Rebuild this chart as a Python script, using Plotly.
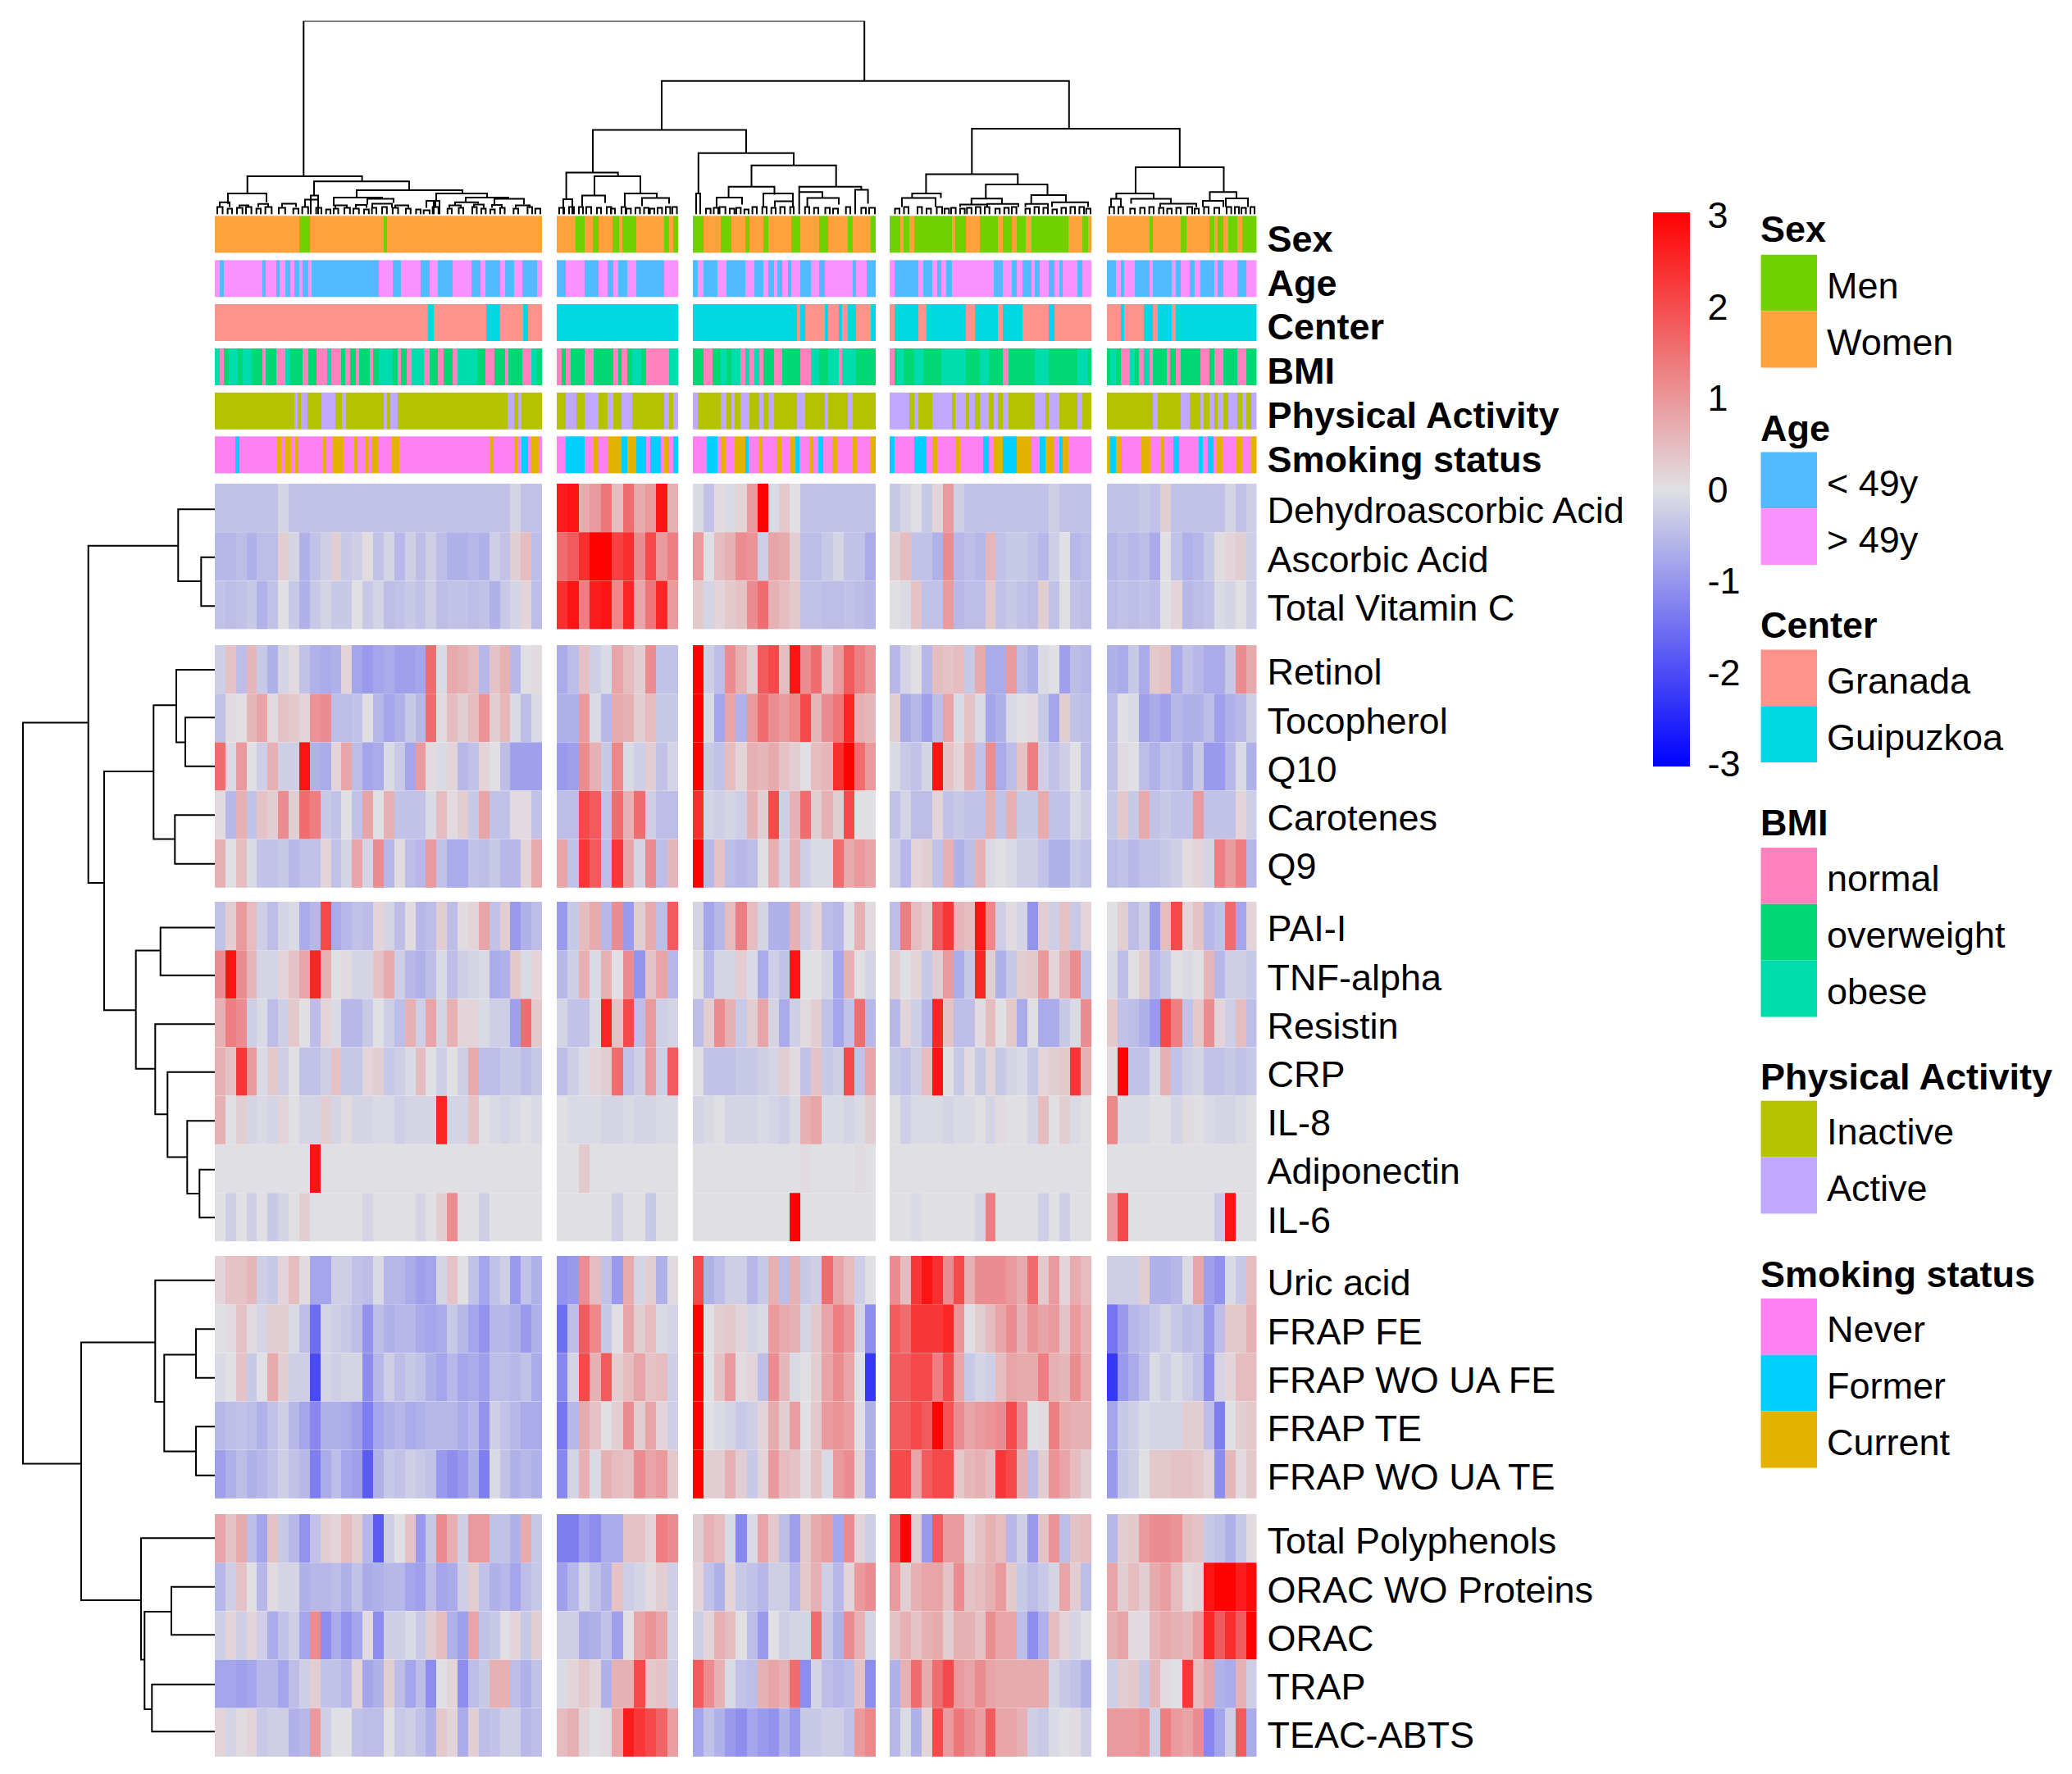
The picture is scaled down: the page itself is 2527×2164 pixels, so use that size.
import numpy as np
import plotly.graph_objects as go

W, H = 2527, 2164
FONT = "Liberation Sans"
FS = 45

# ---------- heat map values (tenths of a z-score as read), one inner list per column cluster ----------
dehydro = [[-5,-5,-5,-5,-5,-5,-2,-5,-5,-5,-5,-5,-5,-5,-5,-5,-5,-5,-5,-5,-5,-5,-5,-5,-5,-5,-5,-5,-2,-5,-5],
 [27,28,9,12,17,6,18,9,12,28,8],
 [-1,-5,1,-1,2,12,30,-1,4,0,-5,-5,-5,-5,-5,-5,-5],
 [-4,-2,0,-4,2,12,-3,-5,-5,-5,-5,-5,-5,-5,-5,-3,-5,-5,-5],
 [-5,-5,-5,-4,-5,3,-5,-5,-5,-5,-5,-2,-5,-3]]
ascorbic = [[-7,-7,-6,-8,-6,-6,3,-2,-8,-5,-3,3,-4,-3,1,-5,-2,-7,-3,-6,-3,-6,-8,-8,-7,-8,-3,-5,3,6,-6],
 [18,20,25,30,30,23,25,14,22,12,16],
 [12,0,6,8,14,13,-3,10,9,3,-6,-6,-4,-2,-5,-5,-9],
 [3,6,-5,-5,-8,14,-7,-6,-7,7,-5,-4,-4,-5,-7,-3,0,-7,-6],
 [-7,-6,-7,-6,-9,0,-5,-8,-7,-4,1,2,3,-3]]
vitc = [[-5,-6,-5,-4,-8,-5,0,-4,-8,-4,-2,-4,-4,0,-4,-2,-6,-5,-4,-5,-3,-6,-5,-5,-6,-5,-8,-4,-2,2,-6],
 [25,28,16,27,28,15,26,10,17,26,12],
 [4,-2,2,4,5,14,18,8,6,4,-5,-5,-6,-6,-5,-6,-7],
 [0,-1,5,-5,-5,12,-7,-6,-6,4,-5,-4,-5,-6,3,-5,0,-5,-6],
 [-6,-5,-6,-5,-6,0,2,-7,-6,-5,-1,-2,0,-3]]
retinol = [[-3,5,-6,7,-4,-8,-2,1,-5,-8,-9,-8,2,-10,-12,-10,-9,-11,-11,-10,18,-1,9,8,6,-7,5,8,-7,0,1],
 [-9,-6,5,-3,-1,10,6,3,14,-5,-5],
 [30,-3,-6,14,8,3,20,22,6,28,14,18,5,12,20,16,13],
 [-7,-2,0,-7,6,5,6,-4,9,-9,-9,12,-6,-8,-1,0,-11,-6,-7],
 [-8,-9,-4,-9,4,5,-9,-5,-7,-9,-9,-4,14,9]]
tocopherol = [[-5,1,0,7,10,1,5,4,2,13,14,-6,-6,-5,0,-7,-10,-8,-4,-7,18,1,6,3,6,13,3,7,-1,-6,-1],
 [-8,-8,12,-1,-7,9,8,3,6,-4,-4],
 [30,-1,-10,10,-8,12,18,14,12,15,22,7,14,17,26,8,7],
 [3,-9,-7,-11,-6,10,-1,5,-1,-10,-8,-1,0,1,-4,-10,3,-5,-6],
 [-6,0,-1,-11,-9,-11,-7,-8,-8,-6,-11,-8,-7,-3]]
q10 = [[18,-1,12,0,-3,8,-3,-3,28,-8,-9,2,10,-6,-10,-9,-1,-4,-10,12,1,-1,2,-7,-5,2,0,-6,-11,-11,-11],
 [-12,-11,14,8,-4,15,-1,-3,3,-5,-2],
 [30,-4,-5,6,2,8,7,9,5,3,0,6,7,25,30,18,12],
 [-1,-4,-5,-2,28,5,2,8,-5,14,-9,-6,5,16,-3,-5,-3,0,-6],
 [-5,1,0,-6,-8,-5,-6,-9,-4,-12,-12,-7,-1,-8]]
carotenes = [[1,-7,8,-5,5,3,14,3,18,16,-4,-5,0,-5,10,0,8,-5,-5,-5,-1,6,1,3,-4,10,-5,-5,1,1,-5],
 [-6,-6,22,20,-5,18,8,18,-3,-6,-6],
 [25,-2,-3,-2,-3,8,3,22,-3,8,18,3,8,3,22,0,0],
 [-5,-2,-6,-6,2,-5,-4,-5,-5,8,-5,8,-4,-4,9,-5,-5,-1,-3],
 [-4,4,-4,9,-5,-4,-5,-5,12,-5,-5,-5,2,-3]]
q9 = [[8,0,6,-1,-5,-5,-4,-7,-5,-5,2,-5,-2,10,-2,14,-7,1,-6,-7,12,-5,-9,-9,-5,-6,-4,-7,-7,2,9],
 [10,-5,24,20,-6,24,10,-2,14,-6,7],
 [30,-7,5,-6,-7,-6,0,8,-2,8,-3,-1,-1,18,9,12,10],
 [-3,-7,2,3,-5,8,-8,-6,8,-1,0,-1,-3,-3,-5,-8,-8,-4,-5],
 [-6,-5,-7,-5,-5,-4,-3,1,2,-2,16,12,16,-7]]
pai = [[-5,3,12,6,-3,-6,-2,-1,-9,-7,22,-9,-7,-5,-6,2,-2,-6,1,-7,-6,3,-6,1,2,10,-5,3,-12,-8,-6],
 [-12,-4,6,9,-7,14,-12,3,9,-6,20],
 [-2,-10,-7,6,16,6,-2,-8,-8,8,-3,2,-6,-7,0,8,1],
 [-6,16,6,3,20,24,7,6,28,15,-3,1,-2,-13,3,-3,5,-4,2],
 [0,3,-6,-3,-12,6,22,2,5,-7,-5,18,-10,2]]
tnf = [[14,28,14,7,-2,-2,2,5,10,26,8,0,1,-2,-2,5,9,-3,-7,-8,-6,-1,-6,-3,-2,-1,-9,-8,4,-1,2],
 [-7,-3,8,-1,8,0,14,-13,5,10,-7],
 [0,-7,-2,-2,3,-1,-9,-3,-5,28,0,0,-2,-10,8,0,-2],
 [3,0,2,-4,3,12,-9,-4,26,3,-8,-4,3,4,12,2,8,14,-5],
 [-1,-6,0,3,-7,-4,0,-1,0,7,-7,-3,-3,-4]]
resistin = [[8,16,14,-3,-1,-6,-3,4,0,-6,2,-1,-7,-7,-4,0,-3,-6,8,-3,10,-2,8,2,2,-1,-3,-3,-11,18,4],
 [-2,-5,-5,-1,26,5,22,-6,12,-3,-2],
 [-6,3,14,8,-4,3,10,-2,-9,-3,1,3,-5,-10,-5,18,-7],
 [-7,2,-3,-7,26,5,-6,-6,1,6,0,4,-9,0,-9,-9,-4,-1,14],
 [4,-5,-6,-8,-12,22,16,-5,4,14,2,-3,6,-6]]
crp = [[8,5,24,12,-1,4,-3,0,-5,-5,-3,5,-4,-4,2,3,-4,-3,-1,6,0,-3,0,-3,9,-6,-6,-4,-4,-6,-4],
 [-6,-3,-1,2,3,18,-5,-3,12,-3,20],
 [0,-5,-5,-5,-4,-4,-3,-2,3,1,-5,5,-4,-3,22,-5,10],
 [-4,-5,-3,6,28,0,-4,1,-4,2,-4,-2,-1,-4,2,3,4,24,8],
 [1,30,-5,-5,-1,8,-5,-3,-2,-5,-5,-4,-5,-4]]
il8 = [[8,0,3,-2,-1,-2,2,0,-2,-2,3,-2,1,-2,-2,-1,-1,-3,-2,-2,-2,26,-2,-2,5,0,-1,-2,-1,0,-1],
 [0,-1,-1,-1,-2,-2,-1,-2,-2,-1,-1],
 [-2,-1,0,-2,-2,-2,-1,-2,-3,-1,8,10,-1,-1,-2,-1,3],
 [0,-3,-1,-1,-1,-2,-1,-1,0,-2,1,0,0,-2,6,0,3,-1,0],
 [15,-1,-1,-1,0,0,-2,1,0,-1,-2,-2,-1,0]]
adiponectin = [[0,0,0,0,0,0,0,0,0,28,0,0,0,0,0,0,0,0,0,0,0,0,0,0,0,0,0,0,0,0,0],
 [0,0,4,0,0,0,0,0,0,0,0],
 [0,0,0,0,0,0,0,0,0,0,1,0,0,0,0,1,0],
 [0,0,0,0,0,0,0,0,0,0,0,0,0,0,0,0,0,0,0],
 [0,0,0,0,0,0,0,0,0,0,0,0,0,0]]
il6 = [[0,-3,0,-3,0,-4,-2,0,3,0,0,0,0,0,-2,0,0,0,0,-2,0,3,14,0,0,-3,0,0,0,0,0],
 [0,0,0,0,0,-3,0,0,-4,0,0],
 [0,0,0,0,0,0,0,0,0,30,0,0,0,0,0,0,0],
 [0,0,-1,0,0,0,0,0,-2,16,0,0,0,0,-3,0,-3,0,0],
 [12,22,0,0,0,0,0,0,0,0,-4,28,0,0]]
uric = [[2,5,5,7,-3,-4,2,6,1,-10,-10,-3,-3,-5,-6,-1,-7,-7,-9,-11,-10,-2,5,0,-5,-10,-5,-3,-12,-5,-8],
 [-13,-12,14,6,-5,-12,9,-2,3,-8,1],
 [22,-8,-6,-3,-3,-7,-4,8,-6,8,-4,-3,18,10,6,-3,0],
 [14,6,24,28,25,14,22,8,14,14,14,12,9,18,4,12,2,9,6],
 [-3,-3,-3,3,-8,-8,-7,-1,10,-11,-13,-1,-4,6]]
frap_fe = [[0,1,5,1,-2,3,3,-1,-6,-18,-2,-3,-4,-6,-13,-6,-8,-7,-7,-9,-10,-9,-4,-7,-10,-13,-7,-7,-8,-12,-8],
 [-18,-6,20,15,-4,0,10,3,6,-1,-2],
 [30,0,3,4,2,-2,-1,12,9,8,-2,4,10,16,13,-2,-14],
 [20,18,24,24,24,26,13,0,3,6,10,14,8,13,10,12,5,12,8],
 [-17,-12,-7,-6,-4,-2,-4,-6,-5,-12,-6,4,4,8]]
frap_wo_fe = [[-1,0,5,-4,0,9,3,-3,-3,-22,-2,-3,-2,-2,-14,-7,-3,-6,-4,-5,-8,-10,-7,-10,-9,-11,-6,-6,-7,-5,-9],
 [-15,-2,22,8,20,3,6,10,5,6,-3],
 [30,0,5,12,1,2,-6,14,7,-1,0,3,10,14,10,0,-24],
 [20,20,22,22,16,22,10,-4,-2,-3,6,10,9,9,16,8,7,14,9],
 [-24,-12,-9,-6,-1,-3,-1,-3,-5,-14,-2,2,6,6]]
frap_te = [[-7,-6,-5,-6,-8,-5,-3,-7,-10,-15,-8,-8,-9,-11,-16,-10,-8,-7,-9,-8,-7,-7,-7,-9,-7,-13,-3,-5,-7,-9,-9],
 [-17,-7,9,5,0,3,14,3,10,2,-3],
 [30,0,-1,-2,-4,-3,2,9,3,11,0,4,12,13,11,0,-8],
 [20,20,22,20,30,21,14,10,12,13,14,22,14,0,1,16,9,8,8],
 [-10,-4,-3,-1,-2,-2,-2,3,3,-6,-16,0,3,4]]
frap_wo_te = [[-11,-8,-6,-8,-7,-5,-3,-5,-7,-16,-9,-6,-10,-11,-20,-8,-4,-5,-3,-4,-5,-12,-14,-12,-8,-16,-1,-5,-8,-7,-8],
 [-15,-2,8,-1,8,6,5,14,10,12,4],
 [30,3,3,8,3,-4,2,12,6,5,1,5,-1,12,14,2,-9],
 [22,22,10,20,22,22,4,7,8,6,24,22,8,-6,3,13,10,6,3],
 [-12,-4,-3,0,4,4,5,5,4,2,-14,7,1,4]]
polyphenols = [[10,5,9,-6,-10,5,-4,-7,-13,-5,3,2,6,3,-7,-20,-3,0,5,-12,-4,14,8,-3,12,12,-5,-5,-8,9,-4],
 [-16,-16,-12,-14,-9,-9,5,5,2,16,14],
 [3,8,6,-1,-15,-1,10,4,-6,-11,4,9,11,-10,14,2,-3],
 [20,30,3,-12,20,12,12,2,5,8,6,-7,-3,-12,5,13,-6,5,6],
 [-7,3,4,12,14,14,13,6,5,-4,-5,-8,-4,1]]
orac_wo = [[-7,-3,5,0,-7,1,-2,-2,-8,-7,-7,-6,-8,-5,-9,-8,-7,-7,-10,-11,-6,-10,-9,-3,3,-5,-8,-7,-10,-6,-4],
 [-11,-7,-2,-5,-8,5,-3,-2,1,3,-3],
 [2,-5,-8,2,-4,-5,-7,-3,-3,-7,4,8,-3,-7,2,12,14],
 [12,3,8,10,10,5,14,5,6,8,12,4,-4,-6,-4,-2,10,3,-6],
 [10,3,6,3,9,11,6,1,2,28,30,30,27,29]]
orac = [[-3,2,-3,2,-3,-9,-5,-3,-10,14,-14,-9,-13,-10,1,-14,-3,-3,-1,-4,3,6,-8,-11,10,-5,-4,0,2,-4,3],
 [-3,-3,-9,-8,-5,-11,0,10,13,10,-2],
 [-3,2,8,6,0,-6,-12,0,-3,-2,-2,18,-4,-8,14,8,-2],
 [5,8,5,8,9,3,8,8,5,14,10,10,-6,-14,-8,6,2,-2,0],
 [8,10,1,1,7,9,8,7,12,26,20,25,20,30]]
trap = [[-10,-10,-11,-10,-7,-7,-10,-6,-3,3,-5,-5,-7,2,-10,-8,3,-6,-10,-6,-14,0,2,-14,-6,-4,8,8,-6,-8,-5],
 [-1,2,4,2,-8,8,8,22,4,5,-3],
 [20,14,8,-1,-5,-6,8,10,8,18,-14,-2,-6,-7,-6,5,-14],
 [-8,8,18,9,18,22,12,10,14,10,9,9,9,9,9,-2,-4,-5,-8],
 [-3,3,4,-4,7,1,0,24,6,10,-8,-9,8,-3]]
teac = [[2,-2,1,2,-4,-3,-3,-8,-7,12,-3,0,0,-5,-6,-6,0,-4,-3,-5,-8,4,2,-9,3,-6,-5,-3,-3,-7,-6],
 [6,8,2,0,1,10,27,24,22,19,11],
 [-10,-5,-8,-12,-14,-10,-12,-13,-8,-12,-4,-4,-3,-3,-5,12,15],
 [-7,-1,-8,2,22,12,17,14,11,20,10,10,8,-3,-4,-1,0,1,-3],
 [12,12,12,13,-3,16,12,10,14,-15,-10,-3,20,-9]]

row_labels = ["Dehydroascorbic Acid","Ascorbic Acid","Total Vitamin C","Retinol","Tocopherol","Q10","Carotenes","Q9",
              "PAI-I","TNF-alpha","Resistin","CRP","IL-8","Adiponectin","IL-6","Uric acid","FRAP FE","FRAP WO UA FE",
              "FRAP TE","FRAP WO UA TE","Total Polyphenols","ORAC WO Proteins","ORAC","TRAP","TEAC-ABTS"]
row_values = [dehydro,ascorbic,vitc,retinol,tocopherol,q10,carotenes,q9,pai,tnf,resistin,crp,il8,adiponectin,il6,
              uric,frap_fe,frap_wo_fe,frap_te,frap_wo_te,polyphenols,orac_wo,orac,trap,teac]
row_block_sizes = [3,5,7,5,5]

# ---------- annotation tracks: runs of (category index, sample count), per column cluster ----------
sex = [[(1,24),(0,3),(1,21),(0,1),(1,44)],
 [(1,5.5),(0,2.5),(1,2.5),(0,1.5),(1,4),(0,2),(1,1),(0,4),(1,8),(0,1.5),(1,1),(0,1.5)],
 [(0,3),(1,5),(0,3),(1,4),(0,1),(1,4),(0,1.5),(1,6.5),(0,2.5),(1,5.5),(0,2.5),(1,5.5),(0,1.5),(1,5),(0,1.5)],
 [(0,3),(1,1),(0,1.5),(1,1.5),(0,10.5),(1,1),(0,3),(1,4),(0,5),(1,1.5),(0,2.5),(1,1.5),(0,2.5),(1,1.5),(0,10.5),(1,4),(0,1.5),(1,1)],
 [(1,12),(0,1),(1,8),(0,1.5),(1,6.5),(0,1.5),(1,1),(0,1.5),(1,1.5),(0,2.5),(1,1.5),(0,4)]]
age = [[(1,1.5),(0,1),(1,11),(0,1),(1,3),(0,1),(1,1.5),(0,1.5),(1,1),(0,1.5),(1,1),(0,1.5),(1,1),(0,19),(1,4),(0,2.5),(1,5.5),(0,2.5),(1,2.5),(0,4),(1,5.5),(0,2.5),(1,1.5),(0,4),(1,1.5),(0,2.5),(1,2.5),(0,4),(1,1.5)],
 [(0,2.5),(1,5.5),(0,4),(1,2.5),(0,1.5),(1,1.5),(0,2.5),(1,2.5),(0,8),(1,4)],
 [(0,1.5),(1,1.5),(0,4),(1,2.5),(0,5.5),(1,2.5),(0,2.5),(1,1.5),(0,1.5),(1,1),(0,1.5),(1,1.5),(0,1),(1,2.5),(0,3),(1,2.5),(0,1.5),(1,8),(0,1),(1,3),(0,2.5)],
 [(1,1.5),(0,6.5),(1,1.5),(0,2.5),(1,1.5),(0,1),(1,1.5),(0,1.5),(1,12),(0,2.5),(1,2.5),(0,1.5),(1,1.5),(0,2.5),(1,1),(0,1.5),(1,2.5),(0,1.5),(1,1.5),(0,1),(1,4),(0,1.5),(1,2.5)],
 [(0,2.5),(1,1.5),(0,1),(1,3),(0,4),(1,1),(0,5.5),(1,1),(0,1.5),(1,2.5),(0,1.5),(1,1.5),(0,4),(1,1),(0,1.5),(1,4),(0,2.5),(1,3)]]
center = [[(0,61),(1,1.5),(0,15),(1,4),(0,6.5),(1,1.5),(0,4)],
 [(1,34)],
 [(1,29.5),(0,1),(1,1.5),(0,5.5),(1,1),(0,3),(1,1),(0,1.5),(1,2.5),(0,4),(1,1.5)],
 [(0,1.5),(1,6.5),(0,2.5),(1,11),(0,2.5),(1,6.5),(0,1.5),(1,5.5),(0,7.5),(1,1.5),(0,10.5)],
 [(0,4),(1,1),(0,5.5),(1,2.5),(0,1.5),(1,4),(0,1),(1,23)]]
bmi = [[(2,1.5),(0,1),(1,1.5),(2,2.5),(1,1.5),(2,2.5),(1,3),(0,1),(1,3),(0,2.5),(2,1.5),(1,3.5),(0,1.5),(1,2.5),(0,3),(2,1),(0,3),(1,1),(0,1.5),(1,1.5),(0,1),(1,3),(0,1),(1,1.5),(2,4),(1,1.5),(0,1),(1,1.5),(0,1.5),(2,3.5),(0,1.5),(1,2.5),(0,1.5),(1,2.5),(0,1.5),(2,5.5),(1,2.5),(0,2.5),(1,3),(0,1),(1,4),(0,2.5),(2,1.5),(1,1.5)],
 [(0,1.5),(1,1),(0,1.5),(1,4),(0,2.5),(1,5.5),(0,1.5),(1,1),(0,1.5),(1,1.5),(2,2.5),(1,1.5),(0,1),(0,5.5),(2,2.5)],
 [(1,3),(0,2.5),(1,2.5),(2,1.5),(1,1.5),(2,2.5),(0,1.5),(2,1),(0,1.5),(2,1.5),(0,1),(1,3),(0,2.5),(1,5),(0,3),(2,2.5),(1,2.5),(2,3),(0,1),(2,4),(1,3),(1,2.5)],
 [(0,1.5),(1,.5),(2,2),(1,3),(2,2.5),(1,5),(2,7),(1,4),(2,2.5),(1,4),(0,1.5),(1,7.5),(2,4),(1,3),(1,5),(2,3),(1,1)],
 [(1,1),(2,1.5),(1,1.5),(0,2.5),(2,1.5),(1,1),(0,1.5),(2,1.5),(0,1),(1,4),(0,1),(1,1.5),(0,1.5),(1,5.5),(0,2.5),(1,1.5),(0,2.5),(1,4),(0,2.5),(1,3)]]
activity = [[(0,23),(1,1),(0,1),(1,2),(0,4),(1,4),(0,2),(1,1),(0,11),(1,1),(0,1),(1,2),(0,32),(1,2),(0,1),(1,1),(0,6)],
 [(0,2.5),(1,3),(0,2.5),(1,4),(0,2.5),(1,1.5),(0,2.5),(1,3),(0,9),(1,1.5),(0,1),(1,1.5)],
 [(1,1.5),(0,6.5),(1,1.5),(0,1.5),(1,1),(0,1.5),(1,2.5),(0,3),(1,1),(0,1.5),(1,1.5),(0,6.5),(1,2.5),(0,5.5),(1,1),(0,5.5),(1,1.5),(0,6.5)],
 [(1,5.5),(0,1.5),(1,1),(0,4),(1,5.5),(0,1),(1,3),(0,1),(1,1.5),(0,1.5),(1,2.5),(0,1.5),(1,1),(0,1.5),(1,1.5),(0,7.5),(1,3),(0,1),(1,3),(0,5),(1,1.5),(0,2.5)],
 [(0,13),(1,1.5),(0,6.5),(1,2.5),(0,3),(1,1),(0,1.5),(1,1.5),(0,1),(1,1.5),(0,1.5),(1,2.5),(0,1.5),(1,1),(0,1.5),(1,1.5)]]
smoking = [[(0,6),(1,1),(0,11),(2,1),(0,1),(2,2),(0,1),(2,1),(0,7),(2,1),(0,2),(2,3),(0,3),(2,1),(0,2),(2,1),(0,1),(2,2),(0,4),(2,2),(0,26),(2,1),(0,6),(2,1),(0,1),(1,2),(0,1),(2,2),(0,1)],
 [(0,2.5),(1,5.5),(0,2.5),(2,1.5),(0,2.5),(2,4),(1,1.5),(2,2.5),(1,3),(0,1),(1,3),(0,1),(2,1.5),(0,1),(1,1.5)],
 [(0,4),(1,3),(0,1),(2,1.5),(0,2.5),(2,3),(1,1),(0,3),(2,1),(0,4),(2,1.5),(0,2.5),(2,1.5),(1,1),(0,3),(2,1),(0,1.5),(1,1.5),(0,2.5),(2,1.5),(0,4.5),(2,1),(0,4),(2,1.5)],
 [(1,1.5),(0,5.5),(1,3.5),(0,1.5),(2,1.5),(0,5),(2,1.5),(0,6.5),(1,1.5),(0,1.5),(2,2.5),(1,4),(2,4),(0,2.5),(1,1.5),(2,2.5),(0,1.5),(1,1),(2,1.5),(0,6.5)],
 [(2,1),(1,1.5),(2,1.5),(0,5.5),(2,2.5),(0,3),(2,1),(0,2.5),(1,1.5),(0,5.5),(1,1),(0,1.5),(1,1.5),(0,1),(2,1.5),(0,4),(2,1.5),(0,2.5),(2,1.5)]]

track_names = ["Sex","Age","Center","BMI","Physical Activity","Smoking status"]
track_runs = [sex,age,center,bmi,activity,smoking]
track_levels = [["Men","Women"],["< 49y","> 49y"],["Granada","Guipuzkoa"],["normal","overweight","obese"],
                ["Inactive","Active"],["Never","Former","Current"]]
track_colors = [["#71D000","#FFA23C"],["#52BBFF","#FB92FF"],["#FF928A","#00D9E3"],["#FF82BE","#00D873","#00DCAE"],
                ["#B5C200","#C0A8FF"],["#FF80F0","#00CFFF","#E3B200"]]

# ---------- column dendrogram: (left x, right x, left child height, right child height, height) ----------
col_links = [(108.3,792.2,46.3,162.7,235.8),(545,1041.8,102.9,104.5,162.7),(461,648,50.9,74.6,102.9),
 (923.3,1176.8,49,57.4,104.5),(867.4,979.3,25.3,36.4,49),(1123,1230.5,25.3,27.2,57.4),(850.4,885.5,20.3,20,25.3),
 (940.3,1015.5,19.2,23.3,36.4),(922.8,960,11.9,12.6,19.2),(995.7,1038,12.6,14.6,23.3),(1099.4,1145,19.2,19,25.3),
 (1213.5,1246,16.5,19.5,27.2),(589.8,706,25.3,59.7,74.6),(587,592,0,0,25.3),(654.5,757.7,33.7,33.7,59.7),
 (626.6,682.5,20.3,24,33.7),(712.7,788.4,27.2,29.9,33.7),(712.7,741,0,20,27.2),(781,796.6,0,13,29.9),
 (428.6,491.7,18.4,46.3,50.9),(463,519,23,25.3,46.3),(39.7,179.6,25.3,40.2,46.3),(121,237,23,29.5,40.2),
 (173,302,20.3,25.3,29.5),(16,63,12.6,14.6,25.3),(145,204,10,19,20.3),(270,332,16.5,20.3,25.3),(306,358,14.6,19,20.3),
 (117,126,0,0,23),(186,218,12,14,19),(267,274,0,0,16.5),(341,377,12,12,19),(293,321,11,13,14.6),
 (425,436,0,0,18.4),(448,476,10,14,23),(500,539,10,20,25.3),(521,554,10,13,20),(612,643,9,12,20.3),
 (669,705,9,16,25.3),(683,705,9,9,16),(722.6,761,9,12,20),(838,879,9,9,20),(909,942,9,9,12),(942,980,9,9,12.6),
 (988.6,1016,9,9,12.6),(1021,1065,9,9,14.6),(1093,1105,9,9,19),(1117.5,1166,13,13,19),(1153,1197,9,9,13),
 (1205,1230,9,9,16.5),(1233,1260,9,9,19.5),(6,18,9,9,14.6),(30,41,9,9,11),(53,65,9,9,12.6),(82,99,9,9,13),
 (110,126,9,9,18),(147,161,8,8,11),(172,185,8,8,11.5),(192,216,8,8,13),(220,236,8,8,11),(258,269,8,8,16.5),
 (286,300,8,8,11),(316,328,8,8,12),(338,350,8,8,11.5),(367,384,8,8,11)]
# tight leaf pairs of the column tree: (left x, right x, height)
col_leaf_pairs = [(3,9.5,9),(15.6,21,7),(27,33.7,8),(38,44.6,9),(50.7,56,7),(61.6,69.3,9),(78,85.8,8),(95.7,102,7),
 (106.6,113.8,9),(123.6,130,8),(135.7,141,6),(145,150.5,7),(158,164.8,8),(169,175.7,7),(182,187.8,6),(191.6,197,8),
 (204,209.8,9),(216.9,223.5,8),(233,238.8,7),(245.4,250.9,6),(254.7,261.9,5),(265.7,272.8,9),(283.8,289,7),(297.5,303,8),
 (314,319.5,9),(325,330.4,7),(336,341.4,6),(348,353.5,8),(364.4,370,7),(381.4,387,9),(390.8,397,7),
 (420,426,8),(432,438,9),(444,449,9),(453,459,9),(466,471,8),(478,483.5,9),(483,488,7),(496,501,9),(502,507.4,7),
 (513,518.5,8),(523.5,529,8),(530.7,536,7),(540,545.4,8),(550,555.4,9),(558,563.6,9),
 (599,604.6,7),(608.5,614,8),(615.6,622.7,9),(628,633.7,7),(636,641.4,8),(645.8,651,6),(655.6,661,9),(667.7,673,9),
 (678.7,684,8),(689.6,695,9),(701.7,706,9),(719.8,725,9),(730.8,736,8),(744.5,750,8),(754,760,7),(769.7,775,9),
 (788.4,794,8),(798,805,8),
 (829.5,835,7),(840.5,846,9),(857,862.4,9),(868,873.4,7),(880.5,887,9),(890,895.4,7),(898,903.6,8),(909,914.6,7),
 (917.3,922.8,8),(928,933.8,9),(939,944.7,9),(951.9,957.3,7),(962.8,968.3,8),(972,977.6,9),(988.6,994,7),(999.6,1005,9),
 (1010.5,1016,8),(1021.5,1027,6),(1032.5,1038,8),(1043.5,1049,9),(1054.4,1060,9),(1062.7,1068,7),
 (1091,1096.7,9),(1102,1107.7,9),(1116.4,1122,7),(1128.5,1134,8),(1139.6,1145,9),(1151.5,1157,8),(1161.5,1167,7),
 (1172.6,1178,8),(1186,1192,9),(1195,1200,7),(1206.4,1212,9),(1219,1225,8),(1234,1239.6,9),(1244,1249,9),(1252,1257.5,8),
 (1263,1268,9)]

# ---------- row dendrogram: (top y, bottom y, top child height, bottom child height, height) ----------
row_links = [(679.8,739.3,0,0,16.7),(621.3,709,0,16.7,44.7),(816.9,905.6,0,36,47),(875.3,934.8,0,0,36),
 (860.2,1023.5,47,48.7,74.7),(994.3,1053.8,0,0,48.7),(1131.4,1189.8,0,0,66.3),(1426.7,1485.2,0,0,18.7),
 (1367.2,1456,0,18.7,33.7),(1307.8,1411.6,0,33.7,57.7),(1249.3,1359.2,0,57.7,72.7),(1159.6,1303.8,66.3,72.7,96.3),
 (940.9,1232.2,74.7,96.3,135),(665.7,1077,44.7,135,154.3),(1621.3,1680.7,0,0,23),(1740.2,1799.7,0,0,23),
 (1652.5,1770.4,23,23,61.7),(1561.8,1710,0,61.7,72.7),(1935.8,1994.2,0,0,53),(2054.7,2112.2,0,0,76.7),
 (1966,2085,53,76.7,85.7),(1876.3,2024.5,0,85.7,90),(1637.4,1951.9,72.7,90,163),(881.4,1785.6,154.3,163,234)]

color_ticks = [-3,-2,-1,0,1,2,3]

# ---------- layout constants (pixels of the 2527x2164 page) ----------
HEAT_LEFT, HEAT_RIGHT = 262, 1532.5
X_SPANS = [(0,399),(417,565),(583,806),(823,1069),(1088,1270.5)]
BLOCK_TOPS = [590,787,1100,1532,1847]
ROW_H = 59.2
TRACK_TOPS = [263.3,317.3,371,425,478.8,532.3]
TRACK_H = 45
TOP, BOTTOM = 263, 2143
TRACK_NUDGE, ROW_NUDGE, LEGEND_NUDGE = 5, 3, 3.5

def calibrate(v):
    """Colours were read about a fifth too strong in the pale range; saturated cells stay saturated."""
    m = abs(v)
    z = 0.8*m if m <= 15 else 12 + (m-15)*18/15
    return np.sign(v)*z/10

fig = go.Figure()
CS = [[0,"#0000ff"],[0.5,"#e0e0e4"],[1,"#ff0000"]]

# heat map cells
row_centres = []
idx = 0
for top, n in zip(BLOCK_TOPS, row_block_sizes):
    for k in range(n):
        y0 = top + k*ROW_H
        row_centres.append(y0 + ROW_H/2)
        for (x0, x1), vals in zip(X_SPANS, row_values[idx]):
            fig.add_trace(go.Heatmap(z=[[calibrate(v) for v in vals]], x=np.linspace(x0, x1, len(vals)+1),
                                     y=[y0, y0+ROW_H], coloraxis="coloraxis", hoverinfo="skip"))
        idx += 1

# annotation tracks
for top, runs, cols in zip(TRACK_TOPS, track_runs, track_colors):
    cs = [[i/(len(cols)-1), c] for i, c in enumerate(cols)]
    for (x0, x1), group in zip(X_SPANS, runs):
        counts = np.array([r[1] for r in group], float)
        edges = x0 + np.concatenate([[0], np.cumsum(counts)])/counts.sum()*(x1-x0)
        fig.add_trace(go.Heatmap(z=[[r[0] for r in group]], x=edges, y=[top, top+TRACK_H], colorscale=cs,
                                 zmin=0, zmax=len(cols)-1, showscale=False, hoverinfo="skip"))

# column dendrogram
xs, ys = [], []
for xl, xr, hl, hr, h in col_links:
    xs += [xl, xl, xr, xr, None]; ys += [hl, h, h, hr, None]
for xl, xr, h in col_leaf_pairs:
    xs += [xl, xl, xr, xr, None]; ys += [0, h, h, 0, None]
fig.add_trace(go.Scatter(x=xs, y=ys, mode="lines", xaxis="x", yaxis="y2", line=dict(color="black", width=2),
                         hoverinfo="skip", showlegend=False))
# row dendrogram
xs, ys = [], []
for yt, yb, ht, hb, h in row_links:
    ys += [yt, yt, yb, yb, None]; xs += [ht, h, h, hb, None]
fig.add_trace(go.Scatter(x=xs, y=ys, mode="lines", xaxis="x2", yaxis="y", line=dict(color="black", width=2),
                         hoverinfo="skip", showlegend=False))

# legends
shapes, annos = [], []
LEG_X0, LEG_X1, LEG_TEXT = 2147.5, 2216, 2229
legend_title_y = [280, 522.4, 762, 1003.3, 1313.6, 1554]
legend_swatch_top = [310.8, 551.4, 792.5, 1034, 1342.8, 1584]
SW_H = 68.8
def px(x): return x/W
def py(y): return 1 - y/H
for name, levels, cols, ty, st in zip(track_names, track_levels, track_colors, legend_title_y, legend_swatch_top):
    annos.append(dict(x=px(LEG_X0), y=py(ty), xref="paper", yref="paper", text=f"<b>{name}</b>", showarrow=False,
                      xanchor="left", yanchor="middle", xshift=-3, font=dict(family=FONT, size=FS, color="black")))
    for i, (lv, c) in enumerate(zip(levels, cols)):
        shapes.append(dict(type="rect", xref="paper", yref="paper", x0=px(LEG_X0), x1=px(LEG_X1),
                           y0=py(st+i*SW_H), y1=py(st+(i+1)*SW_H), fillcolor=c, line=dict(width=0)))
        annos.append(dict(x=px(LEG_TEXT), y=py(st+(i+0.5)*SW_H+LEGEND_NUDGE), xref="paper", yref="paper", text=lv, showarrow=False,
                          xanchor="left", yanchor="middle", xshift=-3, font=dict(family=FONT, size=FS, color="black")))

track_centres = [t + TRACK_H/2 for t in TRACK_TOPS]
tickvals = [c+TRACK_NUDGE for c in track_centres] + [c+ROW_NUDGE for c in row_centres]
ticktext = [f"<b>{n}</b>" for n in track_names] + row_labels

fig.update_layout(
    width=W, height=H, margin=dict(l=0, r=0, t=0, b=0), paper_bgcolor="white", plot_bgcolor="white",
    font=dict(family=FONT, size=FS, color="black"), showlegend=False, shapes=shapes, annotations=annos,
    xaxis=dict(domain=[HEAT_LEFT/W, HEAT_RIGHT/W], range=[0, HEAT_RIGHT-HEAT_LEFT], visible=False, anchor="y"),
    xaxis2=dict(domain=[0, HEAT_LEFT/W], range=[HEAT_LEFT, 0], visible=False, anchor="y"),
    yaxis=dict(domain=[1-BOTTOM/H, 1-TOP/H], range=[BOTTOM, TOP], side="right", anchor="x", showgrid=False,
               zeroline=False, showline=False, tickmode="array", tickvals=tickvals, ticktext=ticktext,
               ticks="outside", ticklen=3, tickcolor="rgba(0,0,0,0)", tickfont=dict(family=FONT, size=FS, color="black")),
    yaxis2=dict(domain=[1-261.4/H, 1-25.6/H], range=[0, 235.8], visible=False, anchor="x"),
    coloraxis=dict(colorscale=CS, cmin=-3.03, cmax=3.03,
                   colorbar=dict(x=2016/W, xanchor="left", xpad=0, ypad=0, y=1-597/H, yanchor="middle",
                                 lenmode="pixels", len=676, thicknessmode="pixels", thickness=45, outlinewidth=0,
                                 tickmode="array", tickvals=color_ticks, ticktext=[str(t) for t in color_ticks],
                                 ticks="outside", ticklen=13, tickcolor="rgba(0,0,0,0)",
                                 tickfont=dict(family=FONT, size=FS, color="black"))),
)
fig.write_html("out.html", config={"displayModeBar": False},
               post_script="document.body.style.margin='0';document.documentElement.style.overflow='hidden';")
